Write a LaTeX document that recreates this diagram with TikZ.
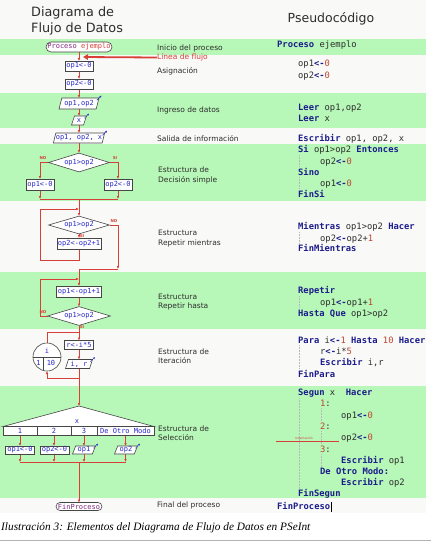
\documentclass[tikz,border=0pt]{standalone}
\usepackage{fontspec}
\usetikzlibrary{shapes.geometric,shapes.misc,arrows.meta}
\newfontfamily\dv{DejaVu Sans}
\newfontfamily\dvm{DejaVu Sans Mono}
\newfontfamily\capserif{Liberation Serif}
\definecolor{bandgreen}{RGB}{183,247,183}
\definecolor{paper}{RGB}{249,249,247}
\definecolor{flowred}{RGB}{214,64,56}
\definecolor{flowblue}{RGB}{40,40,200}
\definecolor{kwc}{RGB}{28,28,140}
\definecolor{numc}{RGB}{190,70,50}
\definecolor{txt}{RGB}{45,45,45}
\definecolor{procc}{RGB}{130,40,130}
\definecolor{edgec}{RGB}{70,70,70}
\newcommand\kw[1]{\textcolor{kwc}{\bfseries #1}}
\newcommand\nm[1]{\textcolor{numc}{#1}}
\newcommand\asg{\textcolor{kwc}{\bfseries<-}}
\tikzset{
 fl/.style={draw=flowred, line width=0.6pt},
 fla/.style={fl, -{Latex[length=3pt,width=2.6pt]}},
 fbox/.style={draw=edgec, fill=white, line width=0.6pt, inner sep=0pt, font=\dvm\fontsize{7}{7}\selectfont, text=flowblue, minimum height=10pt},
 fpar/.style={fbox, trapezium, trapezium left angle=70, trapezium right angle=110, trapezium stretches=true},
 fdia/.style={fbox, diamond, aspect=3},
 fstad/.style={fbox, rounded rectangle},
 ftxt/.style={inner sep=0pt, font=\dvm\fontsize{7}{7}\selectfont, text=flowblue},
 lbl/.style={anchor=base west, font=\dv\fontsize{7.5}{8}\selectfont, text=txt, inner sep=0pt},
 pcode/.style={anchor=base west, font=\dvm\fontsize{8.8}{10}\selectfont, text=txt, inner sep=0pt},
 yn/.style={font=\dv\bfseries\fontsize{4}{4}\selectfont, text=flowred, inner sep=0pt},
 guide/.style={draw=gray!55, densely dotted, line width=0.5pt},
 outarr/.style={draw=flowblue, line width=0.5pt, -{Stealth[length=2pt,width=2pt]}},
}
\begin{document}
\begin{tikzpicture}[x=1pt,y=-1pt]
\useasboundingbox (0,0) rectangle (431,542);
% backgrounds
\fill[white] (0,0) rectangle (431,542);
\fill[paper] (0,0) rectangle (426,513);
\fill[bandgreen] (0,39) rectangle (426,55);
\fill[bandgreen] (0,93) rectangle (426,128);
\fill[bandgreen] (0,144) rectangle (426,201);
\fill[bandgreen] (0,272) rectangle (426,329);
\fill[bandgreen] (0,386) rectangle (426,498);
\draw[gray!60, line width=1pt] (0,540.5) -- (431,540.5);

% titles
\node[anchor=west, inner sep=0pt, align=left, font=\dv\fontsize{12.8}{15.5}\selectfont, text=txt] (t1) at (31,21) {Diagrama de\\Flujo de Datos};
\node[inner sep=0pt, font=\dv\fontsize{12.5}{15}\selectfont, text=txt] (t2) at (331,19) {Pseudocódigo};

% coordinates
\coordinate (la) at (83,57);
\coordinate (m1) at (79,199);
\coordinate (m2) at (79,209);
\coordinate (wc) at (79,260);
\coordinate (wl) at (40,260);
\coordinate (wt) at (40,209);
\coordinate (wr) at (118,269);
\coordinate (we) at (79,269);
\coordinate (rt) at (40,279);
\coordinate (rm) at (79,279);
\coordinate (it) at (79,332);
\coordinate (itl) at (47,332);
\coordinate (ib) at (79,378);
\coordinate (ibl) at (47,378);
\coordinate (apex) at (79,406);
\coordinate (jn) at (79,462);

% flow lines
\draw[fla] (79,52) -- (79,61);
\draw[fla] (79,71) -- (79,79);
\draw[fla] (79,89) -- (79,98);
\draw[fla] (79,109) -- (79,116);
\draw[fla] (79,125) -- (79,133);
\draw[fla] (79,143) -- (79,153);
\draw[fla] (49,162.5) -| (40,179);
\draw[fla] (110,162.5) -| (118,179);
\draw[fla] (40,190) -- (40,199);
\draw[fla] (118,190) -- (118,199);
\draw[fl] (40,199) -- (118,199);
\draw[fla] (m1) -- (79,216);
\draw[fla] (79,234) -- (79,238);
\draw[fl] (79,249) -- (wc) -- (wl) -- (wt);
\draw[fla] (wt) -- (m2);
\draw[fla] (110,225) -| (wr);
\draw[fl] (wr) -- (we);
\draw[fla] (we) -- (79,286);
\draw[fla] (79,297) -- (79,306.5);
\draw[fl] (47.5,316) -| (rt);
\draw[fla] (rt) -- (rm);
\draw[fla] (79,325.5) -- (79,340.5);
\draw[fl] (47,343) -- (itl) -- (it);
\draw[fla] (79,349.5) -- (79,359.5);
\draw[fl] (79,368.5) -- (ib) -- (ibl);
\draw[fla] (ibl) -- (47,371);
\draw[fla] (ib) -- (apex);
\draw[fla] (20,435) -- (20,446);
\draw[fla] (54,435) -- (54,446);
\draw[fla] (84,435) -- (84,446);
\draw[fla] (125.5,435) -- (125.5,446);
\draw[fla] (20,454) -- (20,462);
\draw[fla] (54,454) -- (54,462);
\draw[fla] (84,454) -- (84,462);
\draw[fla] (125.5,454) -- (125.5,462);
\draw[fl] (20,462) -- (125.5,462);
\draw[fla] (jn) -- (79,502.5);

% nodes
\node[fstad, minimum width=66, minimum height=10] (proc) at (79,47) {\textcolor{procc}{Proceso} \textcolor{flowred}{ejemplo}};
\node[fbox, minimum width=28] (a1) at (79,66) {op1<-0};
\node[fbox, minimum width=28] (a2) at (79,84) {op2<-0};
\node[fpar, minimum width=40, minimum height=11] (r1) at (79,103.5) {op1,op2};
\node[fpar, minimum width=15, minimum height=9] (r2) at (79,120.5) {x};
\node[fpar, minimum width=48, minimum height=10] (w1) at (79,138) {op1, op2, x};
\node[fdia, minimum width=61, minimum height=19] (dec1) at (79,162.5) {op1>op2};
\node[fbox, minimum width=28, minimum height=11] (b1) at (40,184.5) {op1<-0};
\node[fbox, minimum width=28, minimum height=11] (b2) at (118,184.5) {op2<-0};
\node[fdia, minimum width=61, minimum height=18] (dec2) at (79,225) {op1>op2};
\node[fbox, minimum width=44, minimum height=11] (b3) at (79,243.5) {op2<-op2+1};
\node[fbox, minimum width=45, minimum height=11] (b4) at (79,291.5) {op1<-op1+1};
\node[fdia, minimum width=63, minimum height=19] (dec3) at (79,316) {op1>op2};
\node[fbox, circle, minimum size=28] (circ) at (47,357) {};
\draw[edgec, line width=0.6pt] (circ.west) -- (circ.east);
\draw[edgec, line width=0.6pt] (43,357) -- (43,370.3);
\node[ftxt] (ci) at (47,351) {i};
\node[ftxt] (c1v) at (38.5,363) {1};
\node[ftxt] (c10) at (51,363) {10};
\node[fbox, minimum width=29, minimum height=9] (b5) at (79,345) {r<-i*5};
\node[fpar, minimum width=27, minimum height=9] (p3) at (79,364) {i, r};

% selection
\draw[edgec, fill=white, line width=0.6pt] (apex) -- (154,426.5) -- (3,426.5) -- cycle;
\node[ftxt] (sx) at (77,421.5) {x};
\node[fbox, minimum width=34, minimum height=9] (c1) at (20,431) {1};
\node[fbox, minimum width=34, minimum height=9] (c2) at (54,431) {2};
\node[fbox, minimum width=26, minimum height=9] (c3) at (84,431) {3};
\node[fbox, minimum width=57, minimum height=9] (c4) at (125.5,431) {De Otro Modo};
\node[fbox, minimum width=29, minimum height=8] (s1) at (20,450) {op1<-0};
\node[fbox, minimum width=29, minimum height=8] (s2) at (54.5,450) {op2<-0};
\node[fpar, minimum width=23, minimum height=8] (s3) at (84,450) {op1};
\node[fpar, minimum width=23, minimum height=8] (s4) at (126,450) {op2};
\node[fstad, minimum width=46, minimum height=8] (fin) at (79,506.5) {\textcolor{procc}{FinProceso}};

% output markers
\draw[outarr] ([shift={(-2.5,2.5)}]r1.top right corner) -- ++(4.5,-4.5);
\draw[outarr] ([shift={(-2.5,2.5)}]r2.top right corner) -- ++(4.5,-4.5);
\draw[outarr] ([shift={(-2.5,2.5)}]w1.top right corner) -- ++(4.5,-4.5);
\draw[outarr] ([shift={(-2.5,2.5)}]p3.top right corner) -- ++(4.5,-4.5);
\draw[outarr] ([shift={(-2.5,2.5)}]s3.top right corner) -- ++(4.5,-4.5);
\draw[outarr] ([shift={(-2.5,2.5)}]s4.top right corner) -- ++(4.5,-4.5);

% yes/no
\node[yn] (n1) at (43,158) {NO};
\node[yn] (n2) at (115,158) {SI};
\node[yn] (n3) at (114,221) {NO};
\node[yn] (n4) at (82,236.5) {SI};
\node[yn] (n5) at (43,312) {NO};
\node[yn] (n6) at (82,327.5) {SI};

% middle labels
\node[lbl] (l1) at (157,50.5) {Inicio del proceso};
\node[anchor=west, inner sep=0pt, font=\dv\fontsize{7.5}{8}\selectfont, text=flowred] (lf) at (157,57.5) {Línea de flujo};
\draw[flowred, line width=1.8pt, -{Triangle[length=5pt,width=5.5pt]}] (lf.west) -- (la);
\node[lbl] (l2) at (157,73.5) {Asignación};
\node[lbl] (l3) at (157,112.5) {Ingreso de datos};
\node[lbl] (l4) at (157,141.5) {Salida de información};
\node[lbl] (l5a) at (158,172.5) {Estructura de};
\node[lbl] (l5b) at (158,182.5) {Decisión simple};
\node[lbl] (l6a) at (158,235.5) {Estructura};
\node[lbl] (l6b) at (158,245.5) {Repetir mientras};
\node[lbl] (l7a) at (158,299) {Estructura};
\node[lbl] (l7b) at (158,308.5) {Repetir hasta};
\node[lbl] (l8a) at (158,354.5) {Estructura de};
\node[lbl] (l8b) at (158,363.5) {Iteración};
\node[lbl] (l9a) at (158,431.5) {Estructura de};
\node[lbl] (l9b) at (158,440.5) {Selección};
\node[lbl] (l10) at (157,507.5) {Final del proceso};

% indentation guides
\draw[guide] (299,155) -- (299,167);
\draw[guide] (299,177) -- (299,189);
\draw[guide] (299,232) -- (299,244);
\draw[guide] (299,296) -- (299,308);
\draw[guide] (299,345) -- (299,369);
\draw[guide] (299,398) -- (299,491);
\draw[guide] (321,408) -- (321,421);
\draw[guide] (321,431) -- (321,444);
\draw[guide] (321,454) -- (321,467);

% pseudocode
\node[pcode] (q0) at (277,47) {\kw{Proceso} ejemplo};
\node[pcode] (q1) at (298,66) {op1\asg\nm{0}};
\node[pcode] (q2) at (298,78) {op2\asg\nm{0}};
\node[pcode] (q3) at (298,110) {\kw{Leer} op1,op2};
\node[pcode] (q4) at (298,121) {\kw{Leer} x};
\node[pcode] (q5) at (298,141) {\kw{Escribir} op1, op2, x};
\node[pcode] (q6) at (298,152) {\kw{Si} op1>op2 \kw{Entonces}};
\node[pcode] (q7) at (320,164) {op2\asg\nm{0}};
\node[pcode] (q8) at (298,175) {\kw{Sino}};
\node[pcode] (q9) at (320,186) {op1\asg\nm{0}};
\node[pcode] (q10) at (298,197) {\kw{FinSi}};
\node[pcode] (q11) at (298,229) {\kw{Mientras} op1>op2 \kw{Hacer}};
\node[pcode] (q12) at (320,241) {op2\asg op2+\nm{1}};
\node[pcode] (q13) at (298,251) {\kw{FinMientras}};
\node[pcode] (q14) at (298,293) {\kw{Repetir}};
\node[pcode] (q15) at (320,305) {op1\asg op1+\nm{1}};
\node[pcode] (q16) at (298,316) {\kw{Hasta Que} op1>op2};
\node[pcode] (q17) at (298,343) {\kw{Para} i\asg\nm{1} \kw{Hasta} \nm{10} \kw{Hacer}};
\node[pcode] (q18) at (320,354) {r\asg i*\nm{5}};
\node[pcode] (q19) at (320,365) {\kw{Escribir} i,r};
\node[pcode] (q20) at (298,377) {\kw{FinPara}};
\node[pcode] (q21) at (298,395) {\kw{Segun} x\ \ \kw{Hacer}};
\node[pcode] (q22) at (320,406) {\nm{1}:};
\node[pcode] (q23) at (341,418) {op1\asg\nm{0}};
\node[pcode] (q24) at (320,429) {\nm{2}:};
\node[pcode] (q25) at (341,440) {op2\asg\nm{0}};
\node[pcode] (q26) at (320,452) {\nm{3}:};
\node[pcode] (q27) at (341,463) {\kw{Escribir} op1};
\node[pcode] (q28) at (320,474) {\kw{De Otro Modo:}};
\node[pcode] (q29) at (341,485) {\kw{Escribir} op2};
\node[pcode] (q30) at (298,496) {\kw{FinSegun}};
\node[pcode] (q31) at (277,509) {\kw{FinProceso}};
\draw[black, line width=0.6pt] ([xshift=1pt]q31.east |- 0,502) -- ([xshift=1pt]q31.east |- 0,512);

% indentation annotation
\coordinate (ia) at (276,441);
\coordinate (ib2) at (339,441);
\draw[flowred, line width=0.7pt] (ia) -- (ib2);
\node[inner sep=0pt, font=\dv\fontsize{3}{3}\selectfont, text=flowred] (ind) at (304,438.5) {Indentación};

% caption
\node[anchor=base west, inner sep=0pt, font=\capserif\itshape\fontsize{11.3}{12}\selectfont, text=black] (cap) at (1,530.5) {Ilustración 3: Elementos del Diagrama de Flujo de Datos en PSeInt};
\end{tikzpicture}
\end{document}
